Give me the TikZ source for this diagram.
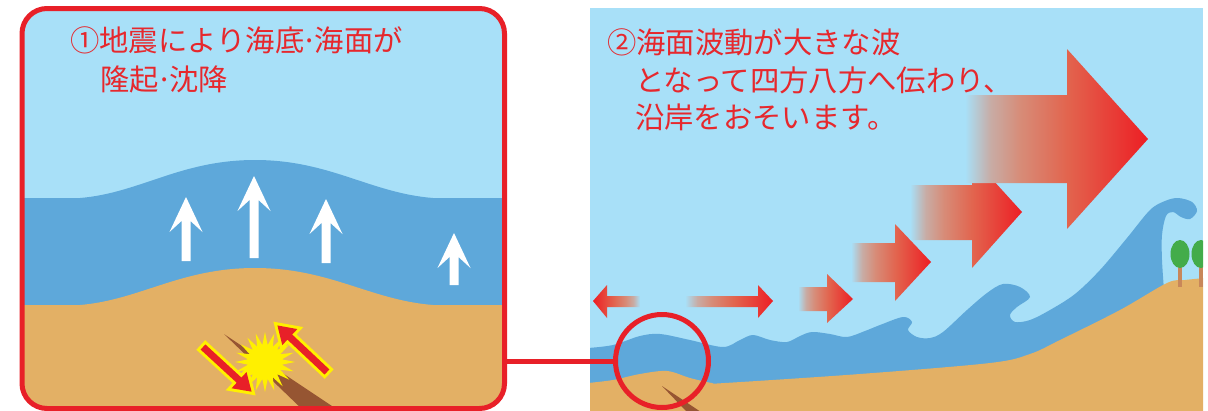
\documentclass[tikz,border=0pt]{standalone}
\usepackage{fontspec}
\newfontfamily\jpfont{Noto Sans CJK JP}
\usetikzlibrary{shapes.geometric}

\definecolor{skyc}{RGB}{168,224,248}
\definecolor{seac}{RGB}{94,168,218}
\definecolor{sandc}{RGB}{227,176,101}
\definecolor{faultc}{RGB}{150,85,50}
\definecolor{alertred}{RGB}{232,32,40}
\definecolor{textred}{RGB}{230,40,45}
\definecolor{burstc}{RGB}{255,240,0}
\definecolor{leafc}{RGB}{67,172,74}
\definecolor{trunkc}{RGB}{200,135,90}
\definecolor{surgered}{RGB}{237,30,36}
\definecolor{fadeA}{RGB}{200,172,165}
\definecolor{fadeB}{RGB}{215,140,120}
\definecolor{fadeC}{RGB}{226,100,78}

% sky -> red fade used by the travelling-wave arrows
\pgfdeclarehorizontalshading{surgefade}{100bp}{color(0bp)=(skyc); color(25bp)=(skyc);
  color(32bp)=(fadeA); color(40bp)=(fadeB); color(53bp)=(fadeC);
  color(75bp)=(surgered); color(100bp)=(surgered)}

% narrow middle dot between words
\newcommand{\ndot}{\kern-0.1em·\kern-0.1em}

\tikzset{
  caption/.style={font=\jpfont\fontsize{22pt}{22pt}\selectfont, text=textred,
    inner sep=0pt, anchor=base west},
  % white uplift arrow, drawn from its tip downwards; argument = total length
  pics/uplift/.style={code={
    \fill[white] (0,0) -- (16.5,35) -- (4.5,24) -- (4.5,#1) -- (-4.5,#1)
      -- (-4.5,24) -- (-16.5,35) -- cycle;}},
  % red slip arrow with yellow rim, pointing along +x; argument = length
  pics/slip/.style={code={
    \path[fill=alertred, preaction={draw=burstc, line width=4.5pt, line join=miter}]
      (0,-3.5) -- (#1-17,-3.5) -- (#1-17,-11) -- (#1,0) -- (#1-17,11)
      -- (#1-17,3.5) -- (0,3.5) -- cycle;}},
  surge/.style={shading=surgefade},
}

\begin{document}
\begin{tikzpicture}[x=0.75pt,y=-0.75pt]
\useasboundingbox (0,0) rectangle (1208,411);

% ---------- panel 1: uplift of the sea floor ----------
\begin{scope}
  \clip[rounded corners=18.75pt] (22,8.5) rectangle (504.5,408.5);
  \fill[skyc] (0,0) rectangle (510,411);
  \fill[seac] (20,198) -- (80,198) .. controls (140,193) and (180,160) .. (255,160)
    .. controls (330,160) and (370,193) .. (433,198) -- (510,198) -- (510,411) -- (20,411) -- cycle;
  \fill[sandc] (20,305) -- (80,305) .. controls (140,300) and (180,268) .. (255,268)
    .. controls (330,268) and (370,300) .. (433,305) -- (510,305) -- (510,411) -- (20,411) -- cycle;
  % fault
  \fill[faultc] (224,334) -- (341,412) -- (305,412) -- cycle;
  \node[star, star points=20, star point ratio=1.75, fill=burstc, draw=none,
    minimum size=45pt, inner sep=0pt] (burst) at (265,362) {};
  \pic[rotate=-42.6] at (203,347) {slip=66};
  \pic[rotate=136.8] at (327,372) {slip=68};
  % uplift arrows
  \pic at (186,197) {uplift=64};
  \pic at (254,176) {uplift=82};
  \pic at (326,199) {uplift=64};
  \pic at (454,233) {uplift=52};
\end{scope}
\node[draw=alertred, line width=3.75pt, rounded corners=18.75pt,
  minimum width=361.875pt, minimum height=300pt, inner sep=0pt] (panelA) at (263.25,208.5) {};

\node[caption] (capA1) at (70,51) {①地震により海底\ndot{}海面が};
\node[caption] (capA2) at (100,90) {隆起\ndot{}沈降};

% ---------- panel 2: tsunami approaching the coast ----------
\begin{scope}
  \clip (590,8) rectangle (1203,411);
  \fill[skyc] (590,8) rectangle (1203,411);
  % sea with breaking waves
  \fill[seac] plot[smooth, tension=0.55] coordinates {
    (588,348) (613,345) (640,336) (660,334) (690,340) (723,347) (740,340) (753,335)
    (770,340) (787,342) (800,336) (812,332) (830,334) (847,337) (865,331) (880,325)
    (903,317) (912,322) (908,330) (917,337) (930,338) (943,332) (967,310) (987,293)
    (1003,284) (1020,287) (1030,297) (1017,307) (1010,315) (1015,322) (1030,320)
    (1050,310) (1075,294) (1100,270) (1127,238) (1150,210) (1165,201) (1178,198)
    (1192,202) (1197,211) (1190,219) (1181,217) (1173,212) (1166,216) (1162,235)
    (1162,260) (1164,290)}
    -- (1164,411) -- (588,411) -- cycle;
  % sea floor and shore
  \fill[sandc] plot[smooth, tension=0.55] coordinates {
    (588,383) (613,380) (640,374) (667,371) (690,378) (712,383) (725,383)
    (860,374) (990,363) (1030,354) (1060,340) (1120,310) (1167,283) (1185,280) (1205,278)}
    -- (1205,411) -- (588,411) -- cycle;
  \fill[faultc] (662,386) -- (701,412) -- (687,412) -- cycle;
  % trees on the shore
  \fill[trunkc] (1178,262) rectangle (1182,287);
  \fill[leafc] (1180,254) ellipse [x radius=9.5, y radius=14];
  \fill[trunkc] (1199,262) rectangle (1203,287);
  \fill[leafc] (1201,254) ellipse [x radius=9.5, y radius=14];
  % travelling wave arrows, growing towards the coast
  \shade[shading=surgefade, shading angle=180]
    (593,301) -- (607,285) -- (607,296) -- (640,296) -- (640,307) -- (607,307) -- (607,318) -- cycle;
  \shade[surge] (685,296) -- (758,296) -- (758,285) -- (773,301) -- (758,318) -- (758,307) -- (685,307) -- cycle;
  \shade[surge] (798,287) -- (827,287) -- (827,274) -- (853,299) -- (827,323) -- (827,311) -- (798,311) -- cycle;
  \shade[surge] (851,243) -- (895,243) -- (895,224) -- (931,262) -- (895,301) -- (895,282) -- (851,282) -- cycle;
  \shade[surge] (910,185) -- (972,185) -- (972,157) -- (1022,212) -- (972,268) -- (972,240) -- (910,240) -- cycle;
  \shade[surge] (965,95) -- (1067,95) -- (1067,49) -- (1148,139) -- (1067,229) -- (1067,183) -- (965,183) -- cycle;
\end{scope}

\node[caption] (capB1) at (607,53) {②海面波動が大きな波};
\node[caption] (capB2) at (635,91) {となって四方八方へ伝わり、};
\node[caption] (capB3) at (635,128) {沿岸をおそいます。};

% magnified spot and its link to panel 1
\node[circle, draw=alertred, line width=3.75pt, minimum size=69.75pt, inner sep=0pt] (spot) at (662,361) {};
\draw[alertred, line width=3.75pt] (spot.west -| panelA.east) -- (spot.west);
\end{tikzpicture}
\end{document}
